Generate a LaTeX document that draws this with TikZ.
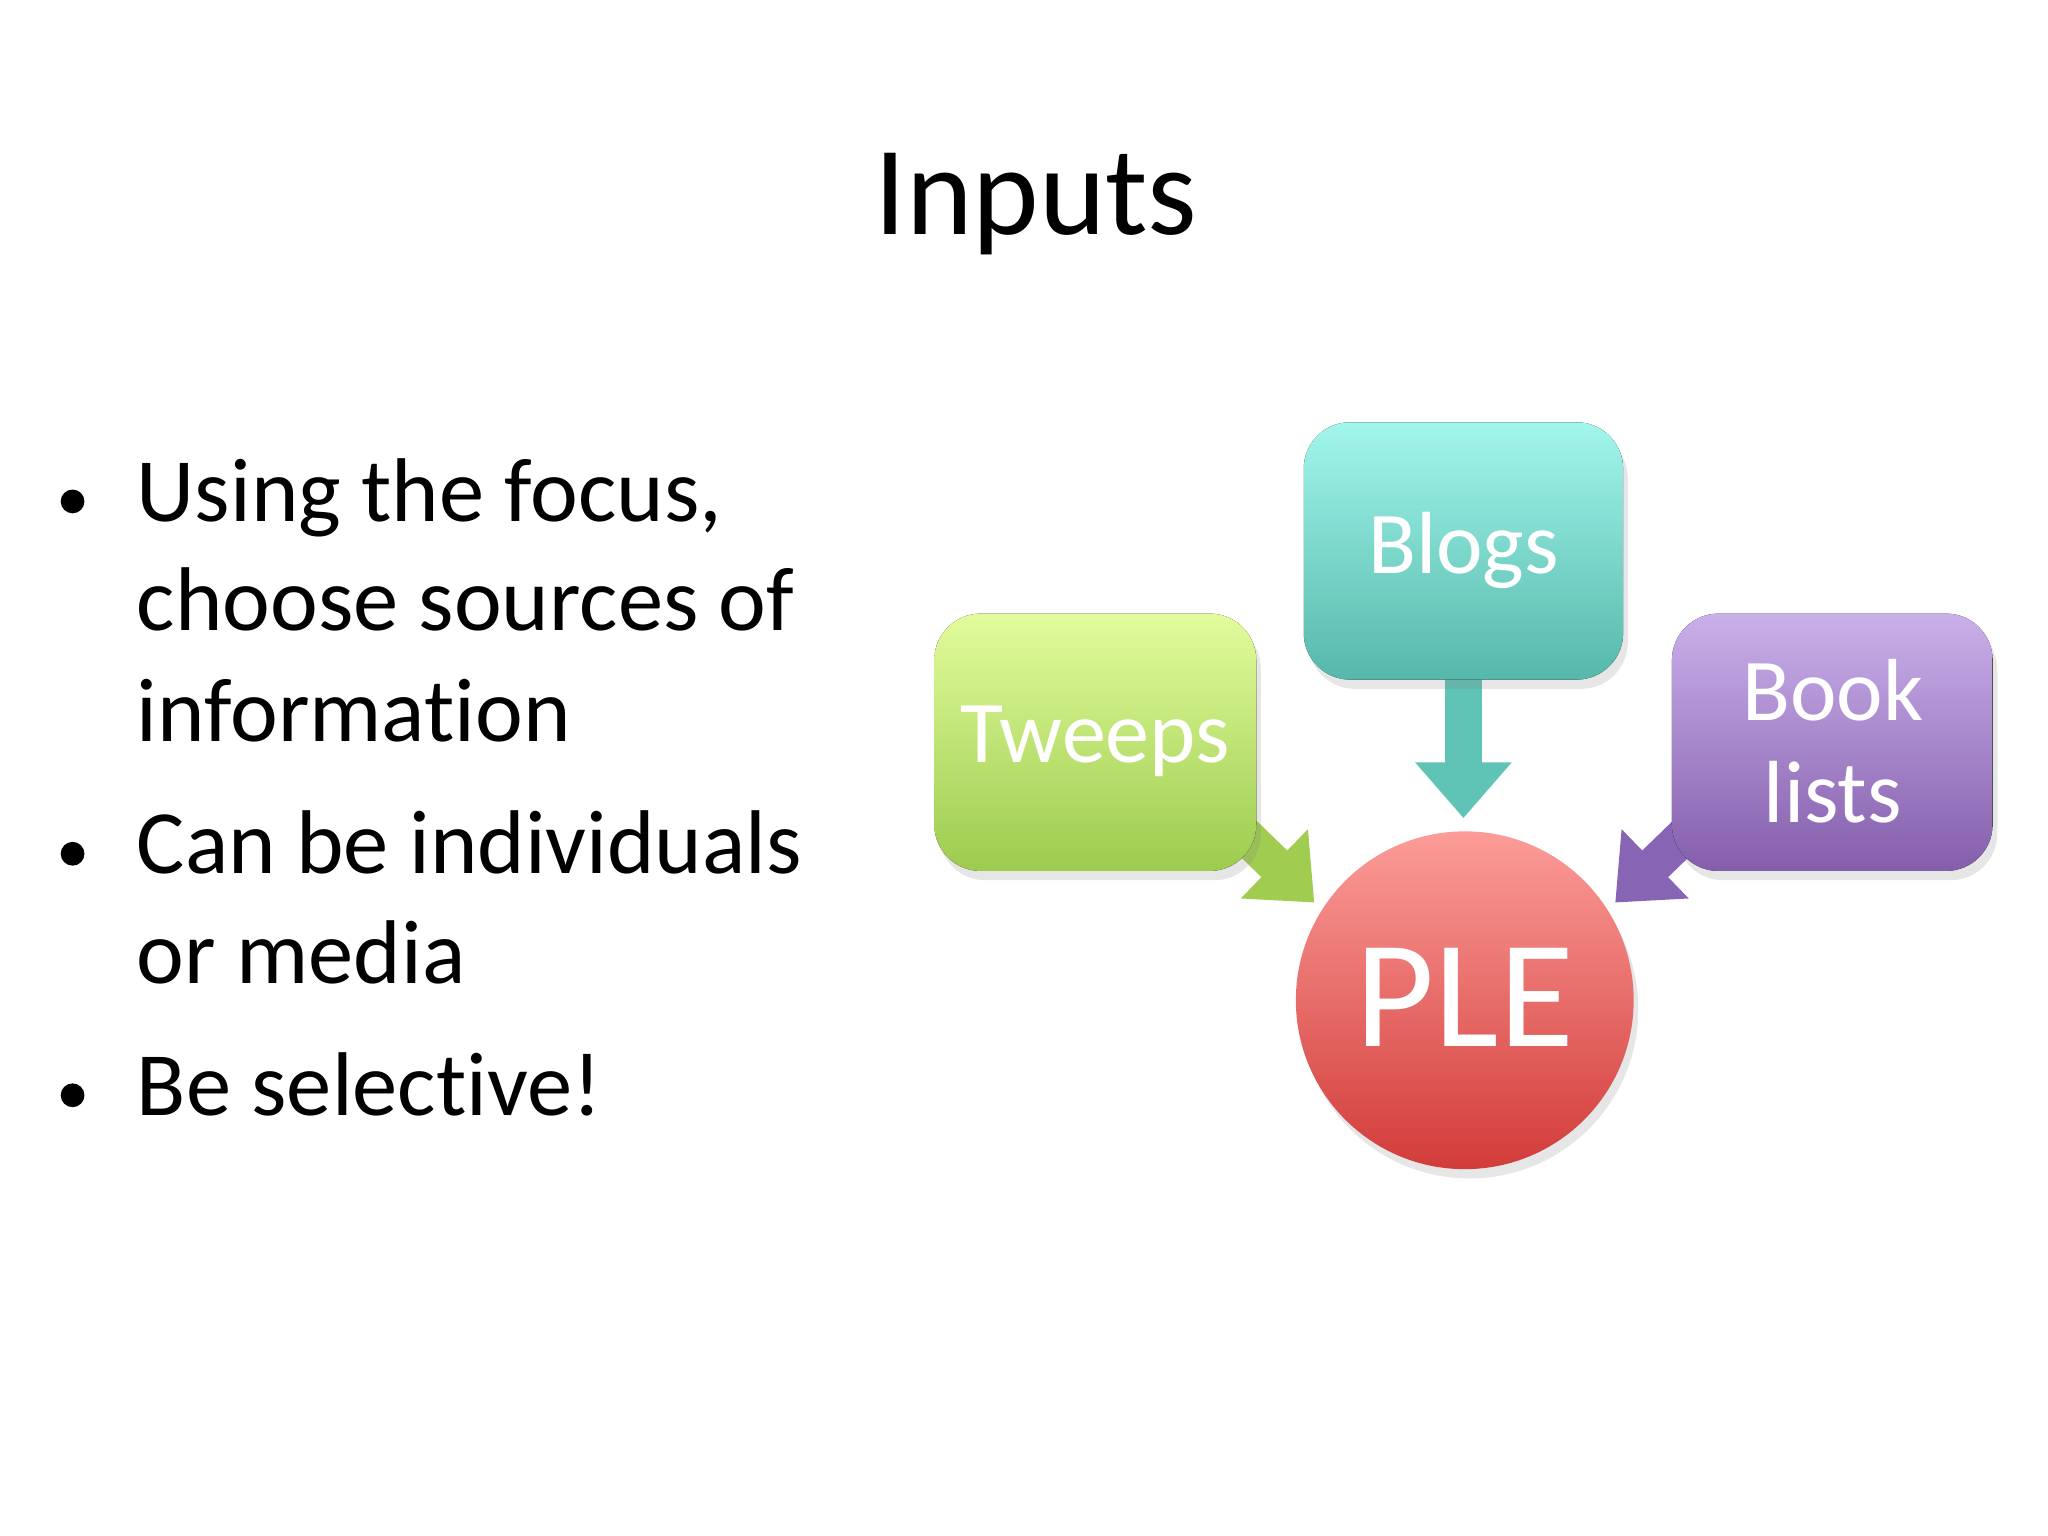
\documentclass[tikz,border=0pt]{standalone}
\usepackage{fontspec}
\setmainfont{Carlito}[Ligatures={NoCommon,NoRare}]
\usetikzlibrary{arrows.meta,shadows}
\begin{document}
\begin{tikzpicture}[x=0.01cm,y=-0.01cm,
  bul/.style={anchor=base west,font=\fontsize{19.5pt}{24pt}\selectfont,inner sep=0},
  box/.style={rounded corners=10pt,drop shadow={opacity=0.2,shadow xshift=1pt,shadow yshift=-2pt}},
  lbl/.style={text=white,align=center,font=\fontsize{19pt}{22pt}\selectfont},
  arr/.style={line width=8pt,-{Triangle[length=12pt,width=20pt]}}]
\useasboundingbox (0,0) rectangle (1552,1164);
\node[font=\fontsize{27.3pt}{30pt}\selectfont,anchor=base] (title) at (785,178) {Inputs};
\foreach \y in {380,647,830}{\fill (55,\y) circle (9);}
\node[bul] (l1) at (103,395) {Using the focus,};
\node[bul] (l2) at (103,478) {choose sources of};
\node[bul] (l3) at (103,562) {information};
\node[bul] (l4) at (103,662) {Can be individuals};
\node[bul] (l5) at (103,745) {or media};
\node[bul] (l6) at (103,845) {Be selective!};
% arrows
\coordinate (bs) at (1109,512);
\coordinate (bt) at (1109,620);
\draw[arr,color={rgb,255:red,95;green,195;blue,182}] (bs) -- (bt);
\coordinate (ts) at (930,620);
\coordinate (tt) at (996,684);
\draw[arr,color={rgb,255:red,160;green,205;blue,80}] (ts) -- (tt);
\coordinate (ks) at (1290,620);
\coordinate (kt) at (1224,684);
\draw[arr,color={rgb,255:red,135;green,100;blue,180}] (ks) -- (kt);
% boxes
\fill[box,top color={rgb,255:red,162;green,246;blue,236},bottom color={rgb,255:red,86;green,184;blue,170}] (988,320) rectangle (1230,515);
\node[lbl] (blogs) at (1109,417) {Blogs};
\fill[box,top color={rgb,255:red,226;green,252;blue,156},bottom color={rgb,255:red,156;green,203;blue,78}] (708,465) rectangle (952,660);
\node[lbl] (tweeps) at (830,562) {Tweeps};
\fill[box,top color={rgb,255:red,202;green,176;blue,234},bottom color={rgb,255:red,132;green,94;blue,172}] (1267,465) rectangle (1510,660);
\node[lbl] (book) at (1389,562) {Book\\lists};
\shade[top color={rgb,255:red,252;green,156;blue,152},bottom color={rgb,255:red,210;green,60;blue,58},drop shadow={opacity=0.2,shadow xshift=1pt,shadow yshift=-2pt}] (1110,758) circle (128);
\node[text=white,font=\fontsize{33pt}{34pt}\selectfont] (ple) at (1110,756) {PLE};
\end{tikzpicture}
\end{document}
